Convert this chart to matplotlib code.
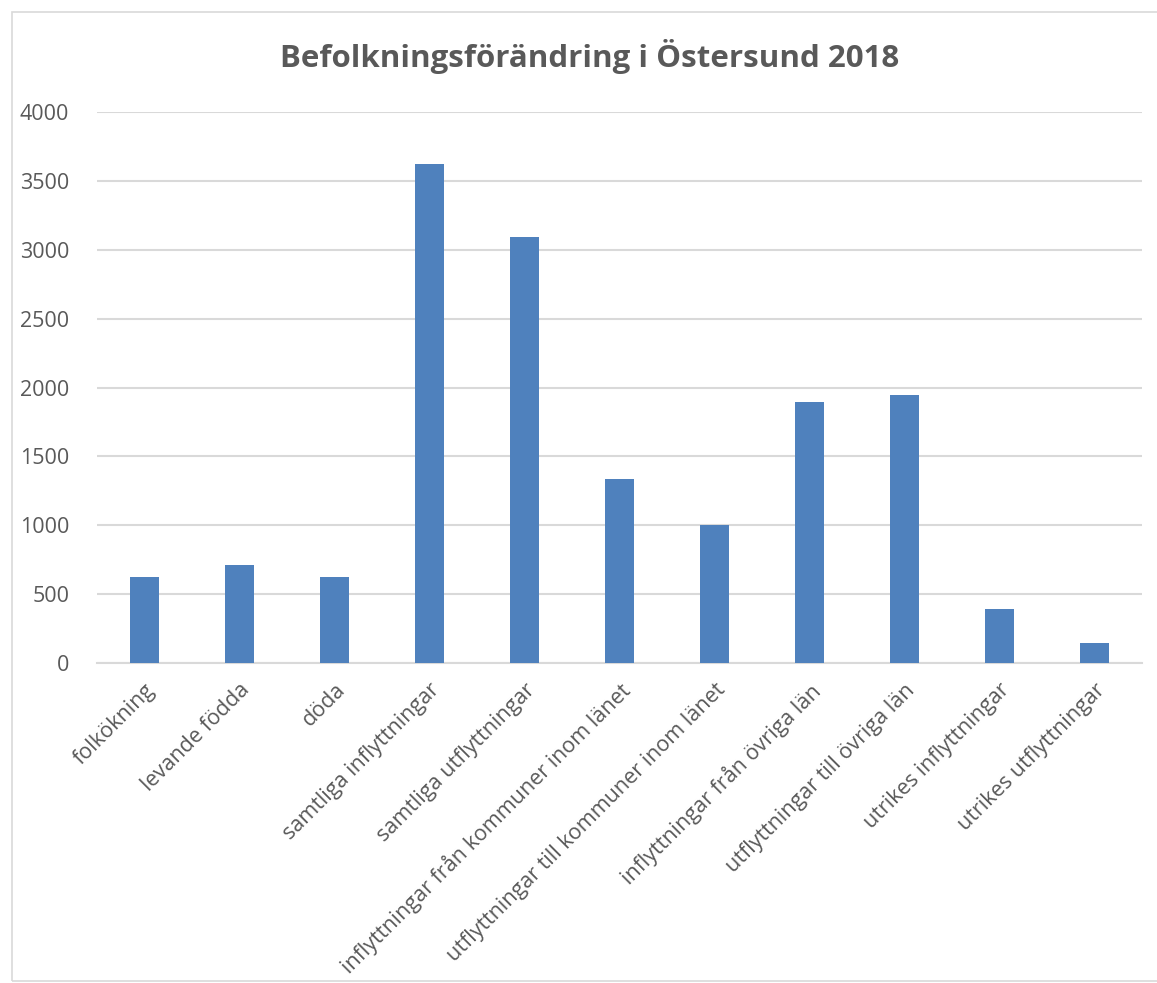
import matplotlib.pyplot as plt
import matplotlib.patches as patches

# Befolkningsförändring i Östersund 2018
categories = ['folkökning', 'levande födda', 'döda', 'samtliga inflyttningar',
              'samtliga utflyttningar', 'inflyttningar från kommuner inom länet',
              'utflyttningar till kommuner inom länet', 'inflyttningar från övriga län',
              'utflyttningar till övriga län', 'utrikes inflyttningar',
              'utrikes utflyttningar']
values = [627, 715, 627, 3621, 3089, 1337, 1001, 1894, 1943, 390, 145]
yticks = [0, 500, 1000, 1500, 2000, 2500, 3000, 3500, 4000]

plt.rcParams['font.family'] = ['Open Sans', 'DejaVu Sans']
grey = '#595959'

fig = plt.figure(figsize=(11.57, 9.83), dpi=100)
# outer chart border
fig.patches.append(patches.Rectangle((12/1157, 0.002), 1.2, 1 - 12/983 - 0.002,
                                     transform=fig.transFigure, fill=False,
                                     edgecolor='#d9d9d9', linewidth=1.2))

ax = fig.add_axes([97/1157, 1 - 663/983, (1142 - 97)/1157, (663 - 112)/983])
x = range(len(categories))
ax.bar(x, values, width=0.31, color='#4f81bd', zorder=3)

ax.set_xlim(-0.5, len(categories) - 0.5)
ax.set_ylim(0, 4000)
ax.set_yticks(yticks)
ax.set_yticklabels([str(v) for v in yticks], fontsize=15.5, color=grey)
ax.set_xticks(list(x))
ax.set_xticklabels(categories, rotation=45, ha='right', rotation_mode='anchor',
                   fontsize=15.5, color=grey)
ax.tick_params(axis='x', length=0, pad=12)
ax.tick_params(axis='y', length=0, pad=20)
ax.grid(axis='y', color='#d9d9d9', linewidth=1.5, zorder=0)
for s in ['top', 'right', 'left']:
    ax.spines[s].set_visible(False)
ax.spines['bottom'].set_color('#d9d9d9')
ax.spines['bottom'].set_linewidth(1.5)

fig.text(590/1157, 1 - 57/983, 'Befolkningsförändring i Östersund 2018',
         ha='center', va='center', fontsize=22.5, fontweight='bold', color=grey)

fig.savefig('out.png', dpi=100)
